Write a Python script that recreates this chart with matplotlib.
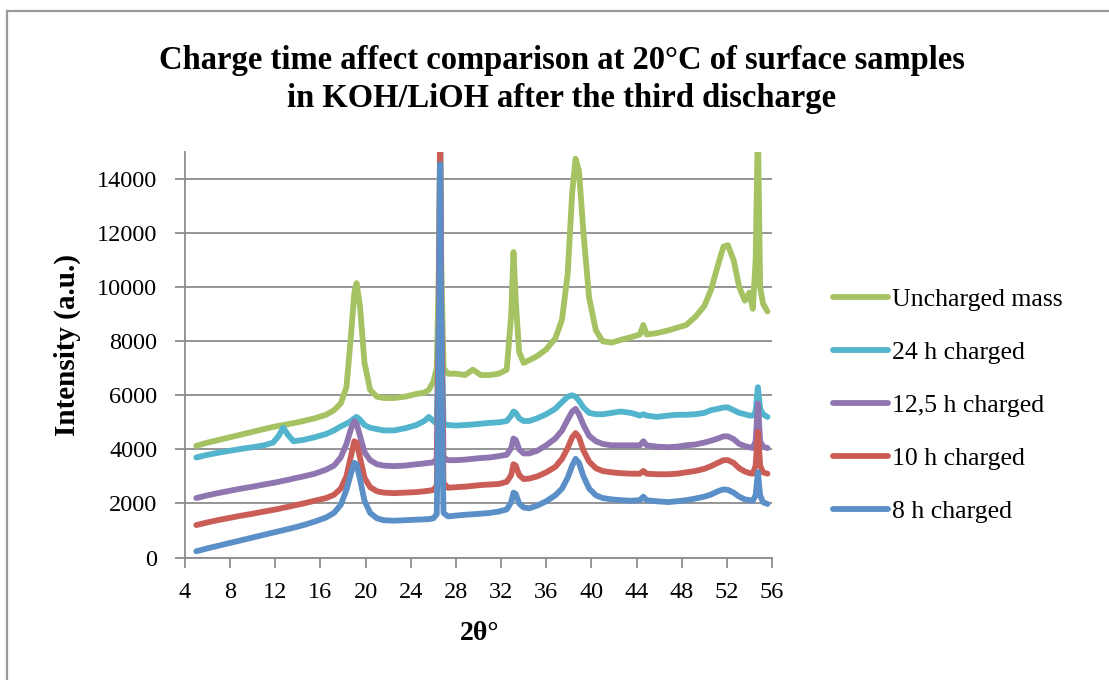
import matplotlib
matplotlib.use("Agg")
import matplotlib.pyplot as plt
from matplotlib.lines import Line2D

theta = [5.0, 6.0, 7.0, 8.0, 9.0, 10.0, 11.0, 11.8, 12.3, 12.7,
         13.1, 13.6, 14.5, 15.5, 16.5, 17.2, 17.8, 18.3, 18.7, 19.0,
         19.2, 19.5, 19.9, 20.4, 21.0, 21.6, 22.5, 23.5, 24.5, 25.2,
         25.6, 26.0, 26.3, 26.5, 26.6, 26.7, 26.9, 27.3, 28.0, 28.8,
         29.5, 30.2, 31.0, 31.8, 32.5, 32.9, 33.1, 33.3, 33.6, 34.0,
         34.5, 35.2, 36.0, 36.8, 37.4, 37.9, 38.3, 38.6, 38.9, 39.3,
         39.8, 40.4, 41.0, 41.8, 42.6, 43.5, 44.3, 44.6, 44.9, 45.8,
         46.8, 47.6, 48.4, 49.2, 50.0, 50.6, 51.2, 51.7, 52.1, 52.6,
         53.1, 53.6, 54.0, 54.3, 54.55, 54.75, 54.95, 55.2, 55.6]

h8 = [230, 340, 440, 540, 640, 740, 840, 920, 970, 1010,
      1050, 1100, 1200, 1330, 1480, 1650, 1950, 2500, 3100, 3500,
      3450, 2900, 2100, 1650, 1450, 1380, 1360, 1380, 1400, 1410,
      1420, 1450, 1600, 7000, 14550, 7000, 1650, 1520, 1550, 1580,
      1600, 1620, 1650, 1700, 1780, 2050, 2400, 2350, 2000, 1850,
      1820, 1920, 2080, 2300, 2550, 2950, 3400, 3650, 3500, 3000,
      2550, 2300, 2200, 2150, 2120, 2100, 2120, 2250, 2120, 2080,
      2050, 2080, 2120, 2180, 2250, 2330, 2450, 2520, 2500, 2400,
      2250, 2150, 2120, 2100, 2300, 3150, 2300, 2050, 1980]

h10 = [1200, 1300, 1390, 1470, 1550, 1620, 1700, 1760, 1800, 1840,
       1870, 1920, 2000, 2100, 2200, 2320, 2550, 3000, 3750, 4300,
       4250, 3700, 2950, 2600, 2450, 2400, 2380, 2400, 2420, 2450,
       2470, 2500, 2650, 8000, 15500, 8000, 2750, 2580, 2600, 2620,
       2650, 2680, 2700, 2720, 2800, 3050, 3450, 3400, 3050, 2900,
       2920, 3000, 3150, 3350, 3650, 4050, 4450, 4600, 4450, 3950,
       3550, 3300, 3200, 3150, 3120, 3100, 3100, 3200, 3100, 3080,
       3080, 3100, 3150, 3200, 3280, 3380, 3500, 3600, 3600, 3500,
       3300, 3180, 3120, 3100, 3400, 4650, 3400, 3150, 3100]

h125 = [2200, 2300, 2390, 2470, 2550, 2620, 2700, 2760, 2800, 2840,
        2870, 2920, 3000, 3100, 3250, 3400, 3700, 4200, 4750, 5050,
        4950, 4500, 3900, 3600, 3450, 3400, 3380, 3400, 3450, 3480,
        3500, 3520, 3650, 9000, 15500, 9000, 3700, 3600, 3600, 3620,
        3650, 3680, 3700, 3750, 3800, 4050, 4400, 4350, 4000, 3850,
        3850, 3950, 4150, 4400, 4700, 5100, 5400, 5500, 5300, 4900,
        4500, 4300, 4200, 4150, 4150, 4150, 4150, 4300, 4150, 4100,
        4080, 4100, 4150, 4180, 4250, 4320, 4400, 4480, 4480, 4380,
        4200, 4120, 4080, 4050, 4300, 5700, 4300, 4100, 4050]

h24 = [3700, 3800, 3880, 3950, 4020, 4080, 4150, 4250, 4500, 4800,
       4550, 4300, 4350, 4450, 4570, 4700, 4850, 4950, 5050, 5150,
       5200, 5100, 4900, 4800, 4750, 4700, 4700, 4780, 4900, 5050,
       5200, 5050, 4950, 9000, 15500, 9000, 4950, 4900, 4880, 4900,
       4920, 4950, 4980, 5000, 5050, 5250, 5400, 5350, 5150, 5050,
       5050, 5150, 5300, 5500, 5750, 5950, 6000, 5950, 5800, 5550,
       5350, 5300, 5300, 5350, 5400, 5350, 5250, 5300, 5250, 5200,
       5250, 5280, 5280, 5300, 5350, 5450, 5500, 5550, 5550, 5450,
       5350, 5300, 5250, 5250, 5400, 6300, 5500, 5300, 5200]

uncharged = [4130, 4250, 4350, 4450, 4550, 4650, 4750, 4830, 4870, 4900,
             4930, 4970, 5050, 5150, 5280, 5450, 5700, 6300, 8200, 9800,
             10150, 9300, 7200, 6200, 5950, 5900, 5900, 5950, 6050, 6100,
             6200, 6500, 7000, 11000, 16000, 11000, 7000, 6800, 6800, 6750,
             6950, 6750, 6750, 6800, 6950, 9000, 11300, 9500, 7600, 7200,
             7300, 7450, 7700, 8100, 8800, 10500, 13500, 14750, 14300, 12000,
             9600, 8400, 8000, 7950, 8050, 8150, 8250, 8600, 8250, 8300,
             8400, 8500, 8600, 8900, 9300, 9900, 10800, 11500, 11550, 11000,
             10000, 9500, 9800, 9200, 11000, 16000, 10000, 9400, 9100]

labels = ["Uncharged mass", "24 h charged", "12,5 h charged", "10 h charged", "8 h charged"]
series = [uncharged, h24, h125, h10, h8]
colors = ["#A6C363", "#52B5CD", "#8F76B1", "#CB5D57", "#5B8FC8"]

xticks = list(range(4, 57, 4))
yticks = list(range(0, 14001, 2000))

plt.rcParams['font.family'] = ['Liberation Serif', 'DejaVu Serif']

fig = plt.figure(figsize=(11.09, 6.8), dpi=100)
ax = fig.add_axes([185/1109, 1 - 557.5/680, (772-185)/1109, (557.5-152)/680])

gray = "#8C8C8C"
handles = []
for i, (lab, y, c) in enumerate(zip(labels, series, colors)):
    ln, = ax.plot(theta, y, color=c, lw=4.2, solid_capstyle='round',
                  solid_joinstyle='round', zorder=3 + i, label=lab)
    handles.append(ln)

ax.set_xlim(4, 56)
ax.set_ylim(0, 15000)
ax.set_xticks(xticks)
ax.set_yticks(yticks)
ax.set_xticklabels([str(v) for v in xticks])
ax.set_yticklabels([str(v) for v in yticks])
ax.tick_params(axis='both', direction='out', length=7, width=1.3, color=gray,
               labelsize=17.5)
ax.tick_params(axis='y', pad=13)
ax.tick_params(axis='x', pad=11)
ax.grid(axis='y', color=gray, lw=1.3)
ax.set_axisbelow(True)
for s in ['top', 'right']:
    ax.spines[s].set_visible(False)
for s in ['left', 'bottom']:
    ax.spines[s].set_color(gray)
    ax.spines[s].set_linewidth(1.3)

fig.text(67/1109, 1 - 345/680, "Intensity (a.u.)", rotation=90, ha='center',
         va='center', fontsize=21, fontweight='bold')
fig.text(480/1109, 1 - 634/680, "2θ°", ha='center', va='center',
         fontsize=20, fontweight='bold')

fig.text(562/1109, 1 - 60/680, "Charge time affect comparison at 20°C of surface samples",
         ha='center', va='center', fontsize=23.5, fontweight='bold')
fig.text(562/1109, 1 - 98/680, "in KOH/LiOH after the third discharge",
         ha='center', va='center', fontsize=23.5, fontweight='bold')

fig.legend(handles=handles, labels=labels, loc='upper left',
           bbox_to_anchor=(833/1109, 1 - 288/680), frameon=False,
           fontsize=18.5, handlelength=2.14, handletextpad=0.16,
           labelspacing=1.17, borderaxespad=0, borderpad=0)

fig.add_artist(Line2D([7/1109, 7/1109], [0, 1 - 11/680], color="#999999", lw=1.6,
                      transform=fig.transFigure))
fig.add_artist(Line2D([7/1109, 1], [1 - 11/680, 1 - 11/680], color="#999999", lw=1.6,
                      transform=fig.transFigure))

fig.savefig("out.png", dpi=100)
